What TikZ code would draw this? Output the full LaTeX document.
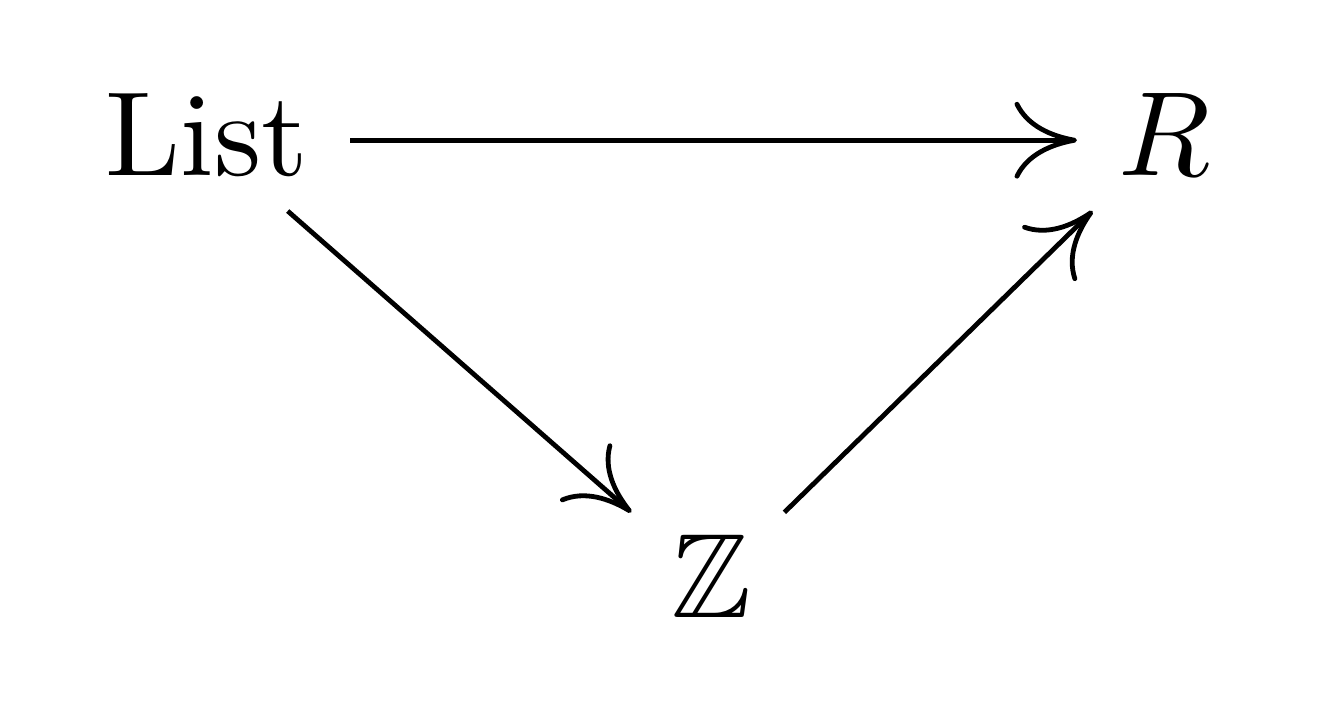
\documentclass[tikz,border=0pt]{standalone}
\usepackage{amssymb}
\usetikzlibrary{arrows.meta}
\begin{document}
\begin{tikzpicture}[x=1pt,y=1pt,
  obj/.style={anchor=base, inner xsep=3.3pt, inner ysep=1.7pt, text height=6.9pt, text depth=1.1pt},
  arr/.style={-{Computer Modern Rightarrow[length=5.2pt,width=6.4pt]}, line width=0.4pt}]
\useasboundingbox (0,0) rectangle (112,60.42);
\node[obj] (L) at (17.25,45.83) {List};
\node[obj] (R) at (97.08,45.83) {$R$};
\node[obj] (Z) at (59.33,8.92) {$\mathbb{Z}$};
\draw[arr] (L) -- (R);
\draw[arr] (L) -- (Z);
\draw[arr] (Z) -- (R);
\end{tikzpicture}
\end{document}
